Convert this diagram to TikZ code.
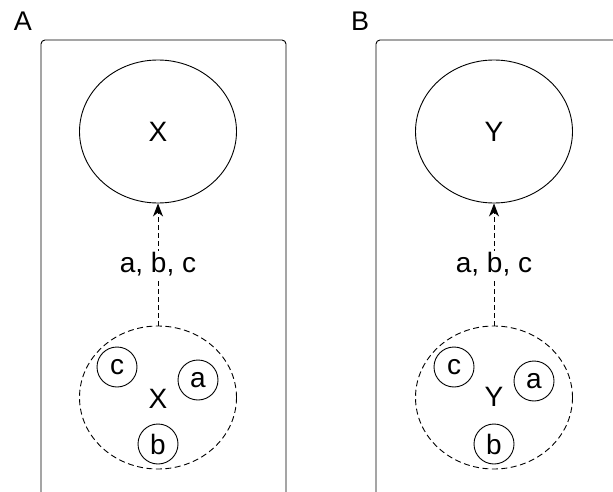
\documentclass[tikz,border=0pt]{standalone}
\usepackage{fontspec}
\setmainfont{Liberation Sans}
\usepackage{tikz}
\usetikzlibrary{positioning,arrows.meta,shapes.geometric}
\tikzstyle{frame} = [draw, line width=0.9pt, rounded corners=4pt]
\tikzstyle{kind} = [draw, ellipse, line width=0.9pt, minimum width=157pt, minimum height=143pt, font=\fontsize{28}{32}\selectfont]
\tikzstyle{group} = [kind, dash pattern=on 6pt off 3.5pt]
\tikzstyle{elem} = [draw, circle, line width=0.9pt, minimum size=40pt, inner sep=0pt, font=\fontsize{28}{32}\selectfont]
\tikzstyle{link} = [line width=0.9pt, dash pattern=on 5pt off 3pt, -{Stealth[length=13pt,width=10pt,inset=4pt]}]
\tikzstyle{lbl} = [fill=white, inner sep=2pt, font=\fontsize{28}{32}\selectfont]
\tikzstyle{tag} = [font=\fontsize{27}{32}\selectfont]

\begin{document}
\begin{tikzpicture}[x=1pt, y=-1pt]
			\path[use as bounding box, clip] (0,0) rectangle (613,492);
			% panel A
			\node[tag] (la) at (23,21) {A};
			\draw[frame] (41,40) rectangle (286,497);
			\node[kind] (tx) at (158,131.5) {X};
			\node[group] (gx) at (158,397.5) {};
			\node (nx) at (158,399) {\fontsize{28}{32}\selectfont X};
			\node[elem] (cx) at (117,367) {c};
			\node[elem] (ax) at (198,380) {a};
			\node[elem] (bx) at (158,444) {b};
			\draw[link] (gx) -- node[lbl] {a, b, c} (tx);
			% panel B
			\node[tag] (lb) at (360,21) {B};
			\draw[frame] (376,40) rectangle (621,497);
			\node[kind] (ty) at (494,131.5) {Y};
			\node[group] (gy) at (494,397.5) {};
			\node (ny) at (494,397) {\fontsize{28}{32}\selectfont Y};
			\node[elem] (cy) at (454,367) {c};
			\node[elem] (ay) at (534,381) {a};
			\node[elem] (by) at (494,444) {b};
			\draw[link] (gy) -- node[lbl] {a, b, c} (ty);
		\end{tikzpicture}
\end{document}
